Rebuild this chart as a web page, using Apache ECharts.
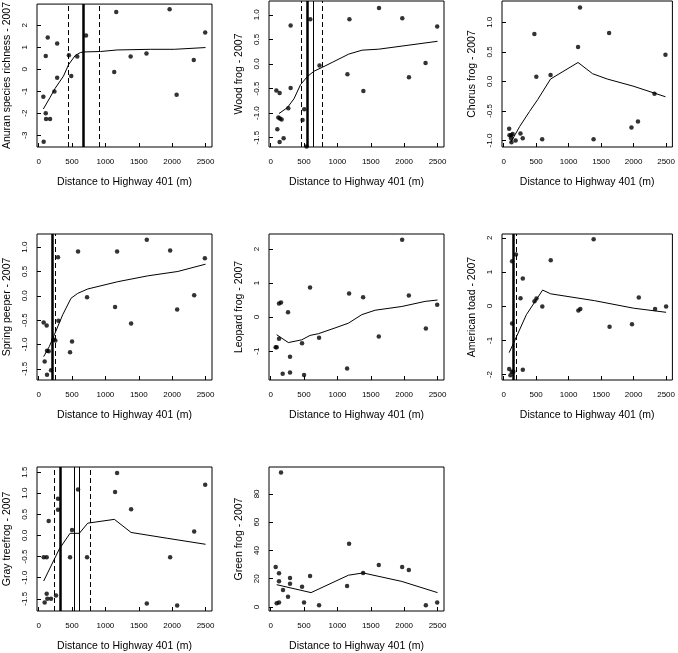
<!DOCTYPE html>
<html><head><meta charset="utf-8">
<script src="https://cdn.jsdelivr.net/npm/echarts@6/dist/echarts.min.js"></script>
<style>html,body{margin:0;padding:0;background:#fff}#c{width:678px;height:653px}</style>
</head><body><div id="c"></div>
<script>
// ---- data ----
const xTicks = [0, 500, 1000, 1500, 2000, 2500];
const xTitle = 'Distance to Highway 401 (m)';

const richX = [70,106,136,106,111,171,75,277,236,277,453,488,578,709,1162,1132,1378,1615,1962,2067,2324,2495];
const richY = [-1.25,0.6,1.45,-2.0,-2.27,-2.27,-3.3,1.18,-1.01,-0.39,0.64,-0.31,0.58,1.54,2.61,-0.12,0.58,0.72,2.73,-1.16,0.42,1.67];
const richFitX = [70,171,246,372,448,548,624,674,925,1177,1680,2032,2500];
const richFitY = [-1.81,-1.28,-0.87,-0.31,0.21,0.63,0.76,0.79,0.81,0.88,0.91,0.91,0.99];
const richThick = [669], richThin = [], richDash = [438, 915];
const richTicks = [-3,-2,-1,0,1,2];

const woodX = [85,134,100,115,139,164,134,194,299,299,264,478,503,538,593,732,1150,1180,1389,1623,1972,2072,2321,2495];
const woodY = [-0.54,-0.59,-1.33,-1.09,-1.11,-1.13,-1.59,-1.51,0.78,-0.49,-0.90,-1.14,-0.92,-1.68,0.91,-0.03,-0.21,0.91,-0.55,1.14,0.93,-0.27,0.02,0.76];
const woodFitX = [124,249,349,448,548,647,772,921,1170,1370,1619,2500];
const woodFitY = [-1.01,-0.89,-0.71,-0.42,-0.26,-0.15,-0.07,0.03,0.20,0.28,0.30,0.46];
const woodThick = [548], woodThin = [632], woodDash = [453, 772];
const woodTicks = [-1.5,-1.0,-0.5,0,0.5,1.0];

const chorusX = [85,90,115,139,115,120,184,259,294,473,503,593,722,1145,1175,1384,1623,1967,2067,2321,2490];
const chorusY = [-0.80,-0.91,-0.91,-0.89,-0.96,-1.03,-1.00,-0.88,-0.96,0.80,0.08,-0.98,0.11,0.58,1.25,-0.98,0.82,-0.78,-0.68,-0.21,0.45];
const chorusFitX = [110,249,398,523,722,1145,1369,1594,1992,2490];
const chorusFitY = [-1.03,-0.76,-0.51,-0.31,0.04,0.32,0.13,0.04,-0.08,-0.26];
const chorusTicks = [-1.0,-0.5,0,0.5,1.0];

const springX = [75,120,90,125,150,125,185,220,250,290,295,470,500,590,725,1145,1175,1385,1620,1970,2075,2330,2490];
const springY = [-0.55,-0.61,-1.35,-1.13,-1.14,-1.62,-1.53,-0.90,-0.92,0.79,-0.51,-1.16,-0.94,0.91,-0.03,-0.23,0.91,-0.57,1.15,0.93,-0.28,0.01,0.77];
const springFitX = [75,160,235,360,485,585,735,1185,1635,2085,2500];
const springFitY = [-1.25,-1.04,-0.8,-0.39,-0.05,0.05,0.14,0.29,0.41,0.5,0.65];
const springThick = [210], springDash = [250];
const springTicks = [-1.5,-1.0,-0.5,0,0.5,1.0];

const leopX = [75,90,125,155,125,180,260,290,290,470,500,590,725,1145,1175,1385,1620,1970,2070,2325,2495];
const leopY = [-0.89,-0.89,0.40,0.43,-0.64,-1.67,0.14,-1.17,-1.63,-0.77,-1.70,0.87,-0.61,-1.51,0.69,0.58,-0.57,2.27,0.63,-0.34,0.36];
const leopFitX = [90,265,465,590,715,965,1165,1365,1565,1965,2315,2500];
const leopFitY = [-0.52,-0.75,-0.67,-0.54,-0.49,-0.32,-0.18,0.07,0.2,0.31,0.46,0.5];
const leopTicks = [-1,0,1,2];

const toadX = [85,105,125,150,130,130,190,260,295,295,475,505,595,725,1150,1180,1385,1630,1975,2080,2330,2500];
const toadY = [-1.84,-2.02,-1.92,-1.92,1.31,-0.51,1.51,0.23,0.81,-1.86,0.14,0.22,-0.01,1.34,-0.13,-0.08,1.96,-0.60,-0.53,0.25,-0.08,-0.01];
const toadFitX = [85,175,350,600,725,1400,2000,2500];
const toadFitY = [-1.36,-0.99,-0.25,0.47,0.36,0.16,-0.06,-0.18];
const toadThick = [150], toadDash = [195];
const toadTicks = [-2,-1,0,1,2];

const grayX = [75,120,90,120,130,185,150,260,290,290,470,500,590,725,1145,1175,1385,1620,1970,2075,2330,2495];
const grayY = [-0.52,-0.52,-1.59,-1.38,-1.50,-1.50,0.34,-1.42,0.87,0.61,-0.52,0.13,1.09,-0.52,1.03,1.48,0.62,-1.61,-0.52,-1.66,0.09,1.20];
const grayFitX = [75,310,470,610,735,1135,1385,1935,2500];
const grayFitY = [-1.08,-0.32,0.05,0.05,0.29,0.38,0.07,-0.07,-0.21];
const grayThick = [320], grayThin = [535, 610], grayDash = [235, 775];
const grayTicks = [-1.5,-1.0,-0.5,0,0.5,1.0,1.5];

const greenX = [75,125,125,90,125,155,185,260,290,290,470,500,590,725,1145,1175,1385,1620,1970,2070,2325,2495];
const greenY = [28.3,23.9,18.3,2.6,3.2,95.1,12.1,7.2,20.6,16.5,14.4,3.2,22.0,1.2,14.8,44.8,24.1,29.7,28.3,26.2,1.2,3.2];
const greenFitX = [90,605,1165,1385,1965,2500];
const greenFitY = [15.8,10.2,22.5,24.1,18.1,10.2];
const greenTicks = [0,20,40,60,80];

// ---- panels ----
const panels = [
  {t:'Anuran species richness - 2007', x:richX, y:richY, fx:richFitX, fy:richFitY, thick:richThick, thin:richThin, dash:richDash, ticks:richTicks, dec:0, ymin:-3.54, ymax:2.97, col:0, row:0},
  {t:'Wood frog - 2007', x:woodX, y:woodY, fx:woodFitX, fy:woodFitY, thick:woodThick, thin:woodThin, dash:woodDash, ticks:woodTicks, dec:1, ymin:-1.69, ymax:1.28, col:1, row:0},
  {t:'Chorus frog - 2007', x:chorusX, y:chorusY, fx:chorusFitX, fy:chorusFitY, thick:[], thin:[], dash:[], ticks:chorusTicks, dec:1, ymin:-1.11, ymax:1.36, col:2, row:0},
  {t:'Spring peeper - 2007', x:springX, y:springY, fx:springFitX, fy:springFitY, thick:springThick, thin:[], dash:springDash, ticks:springTicks, dec:1, ymin:-1.73, ymax:1.27, col:0, row:1},
  {t:'Leopard frog - 2007', x:leopX, y:leopY, fx:leopFitX, fy:leopFitY, thick:[], thin:[], dash:[], ticks:leopTicks, dec:0, ymin:-1.85, ymax:2.44, col:1, row:1},
  {t:'American toad - 2007', x:toadX, y:toadY, fx:toadFitX, fy:toadFitY, thick:toadThick, thin:[], dash:toadDash, ticks:toadTicks, dec:0, ymin:-2.16, ymax:2.11, col:2, row:1},
  {t:'Gray treefrog - 2007', x:grayX, y:grayY, fx:grayFitX, fy:grayFitY, thick:grayThick, thin:grayThin, dash:grayDash, ticks:grayTicks, dec:1, ymin:-1.79, ymax:1.62, col:0, row:2},
  {t:'Green frog - 2007', x:greenX, y:greenY, fx:greenFitX, fy:greenFitY, thick:[], thin:[], dash:[], ticks:greenTicks, dec:0, ymin:-2.8, ymax:99.0, col:1, row:2}
];

const lefts = [37, 269, 502], tops = [1, 234, 467];
const W = 175, H = 146;
const tickFont = {fontFamily:'"Liberation Sans Narrow", "Liberation Sans", Arial, sans-serif', fontSize:8, color:'#000'};
const titleFont = {fontFamily:'"Liberation Sans", Arial, sans-serif', fontSize:10.5, color:'#000'};

const grid = [], xAxis = [], yAxis = [], series = [];
panels.forEach((p, i) => {
  grid.push({left:lefts[p.col], top:tops[p.row], width:W, height:H, show:true, borderColor:'#000', borderWidth:1, backgroundColor:'rgba(0,0,0,0)'});
  xAxis.push({type:'value', gridIndex:i, min:-25, max:2597, position:'bottom',
    axisLine:{show:false, onZero:false}, splitLine:{show:false},
    axisTick:{show:true, inside:true, length:4, lineStyle:{color:'#000', width:1}, customValues:xTicks},
    axisLabel:Object.assign({show:true, margin:11, customValues:xTicks, formatter:v=>String(v)}, tickFont),
    name:xTitle, nameLocation:'middle', nameGap:30, nameTextStyle:titleFont});
  const dec = p.dec;
  yAxis.push({type:'value', gridIndex:i, min:p.ymin, max:p.ymax, position:'left',
    axisLine:{show:false, onZero:false}, splitLine:{show:false},
    axisTick:{show:true, inside:true, length:4, lineStyle:{color:'#000', width:1}, customValues:p.ticks},
    axisLabel:Object.assign({show:true, margin:8, rotate:90, customValues:p.ticks, formatter:v=>dec ? Number(v).toFixed(dec) : String(Math.round(v))}, tickFont),
    name:p.t, nameLocation:'middle', nameRotate:90, nameGap:24, nameTextStyle:titleFont});
  const vl = [];
  p.thick.forEach(v => vl.push({xAxis:v, lineStyle:{color:'#000', width:2.5, type:'solid'}}));
  p.thin.forEach(v => vl.push({xAxis:v, lineStyle:{color:'#000', width:1, type:'solid'}}));
  p.dash.forEach(v => vl.push({xAxis:v, lineStyle:{color:'#000', width:1, type:[5,3]}}));
  series.push({type:'scatter', xAxisIndex:i, yAxisIndex:i, symbol:'circle', symbolSize:4.5,
    itemStyle:{color:'#000'}, clip:true, silent:true,
    data:p.x.map((xv, k) => [xv, p.y[k]]),
    markLine:{silent:true, symbol:['none','none'], label:{show:false}, animation:false, data:vl}});
  series.push({type:'line', xAxisIndex:i, yAxisIndex:i, showSymbol:false, symbol:'none',
    lineStyle:{color:'#000', width:1}, silent:true, clip:true,
    data:p.fx.map((xv, k) => [xv, p.fy[k]])});
});

const chart = echarts.init(document.getElementById('c'), null, {renderer:'canvas'});
chart.setOption({animation:false, backgroundColor:'#fff', grid, xAxis, yAxis, series});
</script></body></html>
